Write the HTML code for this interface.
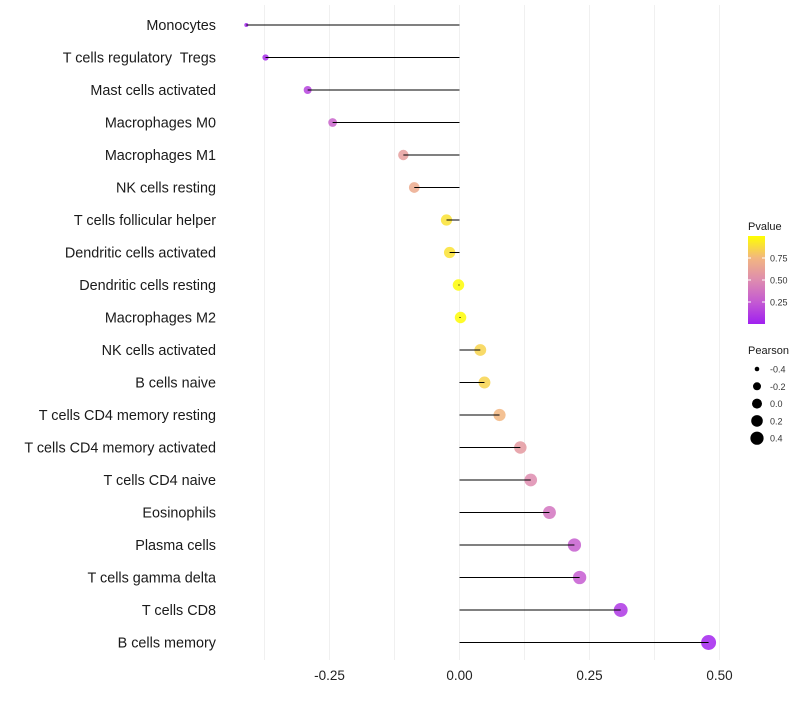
<!DOCTYPE html>
<html><head><meta charset="utf-8"><style>
body{margin:0;background:#fff;font-family:"Liberation Sans",sans-serif}
</style></head><body>
<svg id="c" width="800" height="700" style="font-family:'Liberation Sans',sans-serif"></svg>
<script>
const categories=["Monocytes","T cells regulatory  Tregs","Mast cells activated","Macrophages M0","Macrophages M1","NK cells resting","T cells follicular helper","Dendritic cells activated","Dendritic cells resting","Macrophages M2","NK cells activated","B cells naive","T cells CD4 memory resting","T cells CD4 memory activated","T cells CD4 naive","Eosinophils","Plasma cells","T cells gamma delta","T cells CD8","B cells memory"];
const pearson=[-0.41,-0.373,-0.292,-0.244,-0.108,-0.087,-0.025,-0.019,-0.002,0.002,0.04,0.048,0.077,0.117,0.137,0.173,0.221,0.231,0.31,0.479];
const pvalue=[0.02,0.05,0.15,0.3,0.6,0.68,0.9,0.9,0.99,0.99,0.85,0.85,0.75,0.58,0.5,0.38,0.27,0.26,0.1,0.02];
const xTicks=[-0.25,0,0.25,0.5];
const xTickLabels=["-0.25","0.00","0.25","0.50"];
const pTicks=[0.25,0.5,0.75];
const pTickLabels=["0.25","0.50","0.75"];
const sizeTicks=[-0.4,-0.2,0,0.2,0.4];
const sizeTickLabels=["-0.4","-0.2","0.0","0.2","0.4"];
const NS="http://www.w3.org/2000/svg";
const svg=document.getElementById('c');
function X(v){return 459.5+v*520;}
function Y(i){return 25+i*32.5;}
const pmin=Math.min(...pearson),pmax=Math.max(...pearson);
function R(v){const t=Math.max(0,Math.min(1,(v-pmin)/(pmax-pmin)));return 2+5.5*Math.sqrt(t);}
function lerp(a,b,t){return a+(b-a)*t;}
const stops=[[0,[160,32,240]],[0.25,[196,90,210]],[0.5,[222,140,175]],[0.75,[242,182,128]],[1,[255,255,0]]];
function col(p){p=Math.max(0,Math.min(1,p));for(let k=0;k<stops.length-1;k++){const[a,ca]=stops[k],[b,cb]=stops[k+1];if(p<=b){const t=(p-a)/(b-a);return `rgb(${ca.map((c,j)=>Math.round(lerp(c,cb[j],t))).join(',')})`;}}return 'rgb(255,255,0)';}
function el(t,a,p){const e=document.createElementNS(NS,t);for(const k in a)e.setAttribute(k,a[k]);(p||svg).appendChild(e);return e;}
for(let g=-0.375;g<=0.51;g+=0.125){const l=el('line',{x1:X(g),x2:X(g),y1:5,y2:660,stroke:'#f0f0f0','stroke-width':1});

}
xTicks.forEach((v,i)=>{const t=el('text',{x:X(v),y:680,'text-anchor':'middle','font-size':13.5,fill:'#222'});t.textContent=xTickLabels[i];

});
categories.forEach((c,i)=>{
const t=el('text',{x:216,y:Y(i)+5,'text-anchor':'end','font-size':14.4,fill:'#1a1a1a',style:'white-space:pre'});t.textContent=c;


const p=el('circle',{cx:X(pearson[i]),cy:Y(i),r:R(pearson[i]),fill:col(pvalue[i]),'fill-opacity':0.85});


const s=el('line',{x1:X(0),x2:X(pearson[i]),y1:Y(i),y2:Y(i),stroke:'#000','stroke-width':1});


});
const lt=el('text',{x:748,y:230,'font-size':11,fill:'#1a1a1a'});lt.textContent='Pvalue';


const defs=el('defs',{});const lg=el('linearGradient',{id:'pg',x1:0,y1:1,x2:0,y2:0},defs);
stops.forEach(s=>el('stop',{offset:s[0],'stop-color':col(s[0])},lg));
function PY(p){return 324-p*88;}
const bar=el('rect',{x:748,y:PY(1),width:17,height:88,fill:'url(#pg)'});


pTicks.forEach((v,i)=>{el('line',{x1:748,x2:751,y1:PY(v),y2:PY(v),stroke:'#fff'});el('line',{x1:762,x2:765,y1:PY(v),y2:PY(v),stroke:'#fff'});
const t=el('text',{x:770,y:PY(v)+3.5,'font-size':9,fill:'#333'});t.textContent=pTickLabels[i];

});
const st=el('text',{x:748,y:354,'font-size':11,fill:'#1a1a1a'});st.textContent='Pearson';


const legR=[2.3,4,5,5.8,6.6];
sizeTicks.forEach((v,i)=>{const y=369+i*17.3;const c=el('circle',{cx:757,cy:y,r:legR[i],fill:'#000'});


const t=el('text',{x:770,y:y+3.5,'font-size':9,fill:'#333'});t.textContent=sizeTickLabels[i];

});
</script>
</body></html>
